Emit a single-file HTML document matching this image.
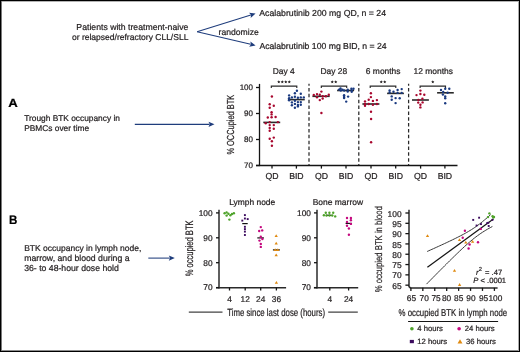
<!DOCTYPE html>
<html><head><meta charset="utf-8"><style>
html,body{margin:0;padding:0;background:#fff;}
.fig{position:relative;width:520px;height:352px;box-sizing:border-box;border:1px solid #000;overflow:hidden;background:#fff;box-shadow:inset 1px 0 0 #7a7a7a, inset 0 1px 0 #b4b4b4, inset -1px 0 0 #acacac, inset 0 -1px 0 #8c8c8c;}
svg{position:absolute;left:-1px;top:-1px;will-change:transform;}
text{font-family:"Liberation Sans", sans-serif;stroke-width:0.22px;text-rendering:geometricPrecision;}
</style></head><body><div class="fig">
<svg width="520" height="352" viewBox="0 0 520 352">
<text x="188.4" y="29.8" font-size="8.7" text-anchor="end" fill="#231f20" stroke="#231f20" font-weight="normal" font-style="normal" >Patients with treatment-naive</text>
<text x="188.4" y="39.7" font-size="8.52" text-anchor="end" fill="#231f20" stroke="#231f20" font-weight="normal" font-style="normal" >or relapsed/refractory CLL/SLL</text>
<line x1="197.1" y1="31.8" x2="250.82571611834607" y2="15.08533276318122" stroke="#1f3d7c" stroke-width="1.05" />
<path d="M255.60,13.60 L250.66,17.91 L251.02,15.03 L249.08,12.85 Z" fill="#1f3d7c"/>
<line x1="197.1" y1="31.8" x2="250.7317163031846" y2="44.35990621117315" stroke="#1f3d7c" stroke-width="1.05" />
<path d="M255.60,45.50 L249.15,46.71 L250.93,44.41 L250.36,41.55 Z" fill="#1f3d7c"/>
<text x="218.6" y="34.7" font-size="8.6" text-anchor="start" fill="#231f20" stroke="#231f20" font-weight="normal" font-style="normal" >randomize</text>
<text x="259.3" y="15.8" font-size="8.73" text-anchor="start" fill="#231f20" stroke="#231f20" font-weight="normal" font-style="normal" >Acalabrutinib 200 mg QD, n = 24</text>
<text x="259.4" y="48.5" font-size="8.66" text-anchor="start" fill="#231f20" stroke="#231f20" font-weight="normal" font-style="normal" >Acalabrutinib 100 mg BID, n = 24</text>
<text transform="translate(8.3,106.8) scale(1.1,1)" font-size="12.0" text-anchor="start" fill="#000" stroke="#000" font-weight="bold" font-style="normal" >A</text>
<text x="24.2" y="120.6" font-size="8.35" text-anchor="start" fill="#231f20" stroke="#231f20" font-weight="normal" font-style="normal" >Trough BTK occupancy in</text>
<text x="24.2" y="130.5" font-size="8.35" text-anchor="start" fill="#231f20" stroke="#231f20" font-weight="normal" font-style="normal" >PBMCs over time</text>
<line x1="134.8" y1="124.35" x2="209.5" y2="124.35" stroke="#1f3d7c" stroke-width="1.05" />
<path d="M214.50,124.35 L208.50,127.00 L209.70,124.35 L208.50,121.70 Z" fill="#1f3d7c"/>
<text transform="translate(233.5,124.7) rotate(-90) scale(0.728,1)" font-size="10.2" text-anchor="middle" fill="#231f20" stroke="#231f20">% OCCupied BTK</text>
<line x1="259.5" y1="83.9" x2="259.5" y2="166.1" stroke="#141414" stroke-width="1.3" />
<line x1="256" y1="165.5" x2="457.5" y2="165.5" stroke="#141414" stroke-width="1.3" />
<line x1="256" y1="87.5" x2="259.5" y2="87.5" stroke="#141414" stroke-width="1.3" />
<text x="253" y="90.35" font-size="8" text-anchor="end" fill="#231f20" stroke="#231f20" font-weight="normal" font-style="normal" >100</text>
<line x1="256" y1="113.5" x2="259.5" y2="113.5" stroke="#141414" stroke-width="1.3" />
<text x="253" y="116.35" font-size="8" text-anchor="end" fill="#231f20" stroke="#231f20" font-weight="normal" font-style="normal" >90</text>
<line x1="256" y1="139.5" x2="259.5" y2="139.5" stroke="#141414" stroke-width="1.3" />
<text x="253" y="142.35" font-size="8" text-anchor="end" fill="#231f20" stroke="#231f20" font-weight="normal" font-style="normal" >80</text>
<line x1="256" y1="165.5" x2="259.5" y2="165.5" stroke="#141414" stroke-width="1.3" />
<text x="253" y="168.35" font-size="8" text-anchor="end" fill="#231f20" stroke="#231f20" font-weight="normal" font-style="normal" >70</text>
<line x1="272" y1="165.5" x2="272" y2="168.6" stroke="#141414" stroke-width="1.3" />
<text x="272" y="178.8" font-size="8.7" text-anchor="middle" fill="#231f20" stroke="#231f20" font-weight="normal" font-style="normal" >QD</text>
<line x1="296.4" y1="165.5" x2="296.4" y2="168.6" stroke="#141414" stroke-width="1.3" />
<text x="296.4" y="178.8" font-size="8.7" text-anchor="middle" fill="#231f20" stroke="#231f20" font-weight="normal" font-style="normal" >BID</text>
<line x1="321.4" y1="165.5" x2="321.4" y2="168.6" stroke="#141414" stroke-width="1.3" />
<text x="321.4" y="178.8" font-size="8.7" text-anchor="middle" fill="#231f20" stroke="#231f20" font-weight="normal" font-style="normal" >QD</text>
<line x1="346" y1="165.5" x2="346" y2="168.6" stroke="#141414" stroke-width="1.3" />
<text x="346" y="178.8" font-size="8.7" text-anchor="middle" fill="#231f20" stroke="#231f20" font-weight="normal" font-style="normal" >BID</text>
<line x1="371" y1="165.5" x2="371" y2="168.6" stroke="#141414" stroke-width="1.3" />
<text x="371" y="178.8" font-size="8.7" text-anchor="middle" fill="#231f20" stroke="#231f20" font-weight="normal" font-style="normal" >QD</text>
<line x1="395.7" y1="165.5" x2="395.7" y2="168.6" stroke="#141414" stroke-width="1.3" />
<text x="395.7" y="178.8" font-size="8.7" text-anchor="middle" fill="#231f20" stroke="#231f20" font-weight="normal" font-style="normal" >BID</text>
<line x1="420.6" y1="165.5" x2="420.6" y2="168.6" stroke="#141414" stroke-width="1.3" />
<text x="420.6" y="178.8" font-size="8.7" text-anchor="middle" fill="#231f20" stroke="#231f20" font-weight="normal" font-style="normal" >QD</text>
<line x1="444.9" y1="165.5" x2="444.9" y2="168.6" stroke="#141414" stroke-width="1.3" />
<text x="444.9" y="178.8" font-size="8.7" text-anchor="middle" fill="#231f20" stroke="#231f20" font-weight="normal" font-style="normal" >BID</text>
<line x1="309" y1="83.8" x2="309" y2="165" stroke="#2a2a2a" stroke-width="1.25" stroke-dasharray="3.5 2.35" stroke-dashoffset="1.65"/>
<line x1="358.8" y1="83.8" x2="358.8" y2="165" stroke="#2a2a2a" stroke-width="1.25" stroke-dasharray="3.5 2.35" stroke-dashoffset="1.65"/>
<line x1="408.6" y1="83.8" x2="408.6" y2="165" stroke="#2a2a2a" stroke-width="1.25" stroke-dasharray="3.5 2.35" stroke-dashoffset="1.65"/>
<text x="283.8" y="74.0" font-size="8.45" text-anchor="middle" fill="#231f20" stroke="#231f20" font-weight="normal" font-style="normal" >Day 4</text>
<text x="333.85" y="74.0" font-size="8.45" text-anchor="middle" fill="#231f20" stroke="#231f20" font-weight="normal" font-style="normal" >Day 28</text>
<text x="383.2" y="74.0" font-size="8.45" text-anchor="middle" fill="#231f20" stroke="#231f20" font-weight="normal" font-style="normal" >6 months</text>
<text x="433.3" y="74.0" font-size="8.45" text-anchor="middle" fill="#231f20" stroke="#231f20" font-weight="normal" font-style="normal" >12 months</text>
<path d="M271.3,88.0 L271.3,86.1 L296.8,86.1 L296.8,88.0" fill="none" stroke="#2a2a2a" stroke-width="1.15"/>
<path d="M278.80,80.35 L279.27,81.35 L280.37,81.49 L279.56,82.25 L279.77,83.33 L278.80,82.80 L277.83,83.33 L278.04,82.25 L277.23,81.49 L278.33,81.35 Z" fill="#231f20"/>
<path d="M282.30,80.35 L282.77,81.35 L283.87,81.49 L283.06,82.25 L283.27,83.33 L282.30,82.80 L281.33,83.33 L281.54,82.25 L280.73,81.49 L281.83,81.35 Z" fill="#231f20"/>
<path d="M285.80,80.35 L286.27,81.35 L287.37,81.49 L286.56,82.25 L286.77,83.33 L285.80,82.80 L284.83,83.33 L285.04,82.25 L284.23,81.49 L285.33,81.35 Z" fill="#231f20"/>
<path d="M289.30,80.35 L289.77,81.35 L290.87,81.49 L290.06,82.25 L290.27,83.33 L289.30,82.80 L288.33,83.33 L288.54,82.25 L287.73,81.49 L288.83,81.35 Z" fill="#231f20"/>
<path d="M321.3,88.0 L321.3,86.1 L346.7,86.1 L346.7,88.0" fill="none" stroke="#2a2a2a" stroke-width="1.15"/>
<path d="M332.25,80.35 L332.72,81.35 L333.82,81.49 L333.01,82.25 L333.22,83.33 L332.25,82.80 L331.28,83.33 L331.49,82.25 L330.68,81.49 L331.78,81.35 Z" fill="#231f20"/>
<path d="M335.75,80.35 L336.22,81.35 L337.32,81.49 L336.51,82.25 L336.72,83.33 L335.75,82.80 L334.78,83.33 L334.99,82.25 L334.18,81.49 L335.28,81.35 Z" fill="#231f20"/>
<path d="M370.2,88.0 L370.2,86.1 L395.8,86.1 L395.8,88.0" fill="none" stroke="#2a2a2a" stroke-width="1.15"/>
<path d="M381.25,80.35 L381.72,81.35 L382.82,81.49 L382.01,82.25 L382.22,83.33 L381.25,82.80 L380.28,83.33 L380.49,82.25 L379.68,81.49 L380.78,81.35 Z" fill="#231f20"/>
<path d="M384.75,80.35 L385.22,81.35 L386.32,81.49 L385.51,82.25 L385.72,83.33 L384.75,82.80 L383.78,83.33 L383.99,82.25 L383.18,81.49 L384.28,81.35 Z" fill="#231f20"/>
<path d="M420.1,88.0 L420.1,86.1 L445.5,86.1 L445.5,88.0" fill="none" stroke="#2a2a2a" stroke-width="1.15"/>
<path d="M432.80,80.35 L433.27,81.35 L434.37,81.49 L433.56,82.25 L433.77,83.33 L432.80,82.80 L431.83,83.33 L432.04,82.25 L431.23,81.49 L432.33,81.35 Z" fill="#231f20"/>
<line x1="263.3" y1="122.4" x2="280.2" y2="122.4" stroke="#2a2a2a" stroke-width="1.6" />
<line x1="287.9" y1="99.6" x2="304.75" y2="99.6" stroke="#2a2a2a" stroke-width="1.6" />
<line x1="312.4" y1="96.3" x2="329.7" y2="96.3" stroke="#2a2a2a" stroke-width="1.6" />
<line x1="337.1" y1="90.5" x2="354.1" y2="90.5" stroke="#2a2a2a" stroke-width="1.6" />
<line x1="362.4" y1="104" x2="379.4" y2="104" stroke="#2a2a2a" stroke-width="1.6" />
<line x1="387.1" y1="93.4" x2="403.9" y2="93.4" stroke="#2a2a2a" stroke-width="1.6" />
<line x1="412" y1="100" x2="428.9" y2="100" stroke="#2a2a2a" stroke-width="1.6" />
<line x1="437.1" y1="92.8" x2="453.8" y2="92.8" stroke="#2a2a2a" stroke-width="1.6" />
<circle cx="271.9" cy="96.5" r="1.2" fill="#a8072e"/>
<circle cx="269.7" cy="104.3" r="1.2" fill="#a8072e"/>
<circle cx="273.8" cy="105.8" r="1.2" fill="#a8072e"/>
<circle cx="269.7" cy="107.8" r="1.2" fill="#a8072e"/>
<circle cx="271.6" cy="112.2" r="1.2" fill="#a8072e"/>
<circle cx="271.6" cy="114.4" r="1.2" fill="#a8072e"/>
<circle cx="271.6" cy="117.3" r="1.2" fill="#a8072e"/>
<circle cx="267.8" cy="117.5" r="1.2" fill="#a8072e"/>
<circle cx="275.6" cy="117" r="1.2" fill="#a8072e"/>
<circle cx="265.7" cy="123.3" r="1.2" fill="#a8072e"/>
<circle cx="269.7" cy="122.1" r="1.2" fill="#a8072e"/>
<circle cx="277.9" cy="122.1" r="1.2" fill="#a8072e"/>
<circle cx="269.7" cy="125.1" r="1.2" fill="#a8072e"/>
<circle cx="273.8" cy="125.1" r="1.2" fill="#a8072e"/>
<circle cx="269.7" cy="128" r="1.2" fill="#a8072e"/>
<circle cx="273.8" cy="128.8" r="1.2" fill="#a8072e"/>
<circle cx="269.7" cy="130.8" r="1.2" fill="#a8072e"/>
<circle cx="273.8" cy="137.6" r="1.2" fill="#a8072e"/>
<circle cx="269.7" cy="138.8" r="1.2" fill="#a8072e"/>
<circle cx="271.9" cy="141.3" r="1.2" fill="#a8072e"/>
<circle cx="271.9" cy="145.7" r="1.2" fill="#a8072e"/>
<circle cx="296.9" cy="90.8" r="1.2" fill="#1a3a80"/>
<circle cx="294.9" cy="93.3" r="1.2" fill="#1a3a80"/>
<circle cx="300.8" cy="93.75" r="1.2" fill="#1a3a80"/>
<circle cx="289.1" cy="95.4" r="1.2" fill="#1a3a80"/>
<circle cx="291.9" cy="97.4" r="1.2" fill="#1a3a80"/>
<circle cx="294.9" cy="96.75" r="1.2" fill="#1a3a80"/>
<circle cx="297.9" cy="97.7" r="1.2" fill="#1a3a80"/>
<circle cx="300.8" cy="97.4" r="1.2" fill="#1a3a80"/>
<circle cx="303.8" cy="97.4" r="1.2" fill="#1a3a80"/>
<circle cx="289.1" cy="98.3" r="1.2" fill="#1a3a80"/>
<circle cx="289.1" cy="100.2" r="1.2" fill="#1a3a80"/>
<circle cx="294.9" cy="100.8" r="1.2" fill="#1a3a80"/>
<circle cx="291.9" cy="102.4" r="1.2" fill="#1a3a80"/>
<circle cx="297.9" cy="102.1" r="1.2" fill="#1a3a80"/>
<circle cx="300.8" cy="102.1" r="1.2" fill="#1a3a80"/>
<circle cx="294.9" cy="103.9" r="1.2" fill="#1a3a80"/>
<circle cx="297.9" cy="104.9" r="1.2" fill="#1a3a80"/>
<circle cx="300.8" cy="104.75" r="1.2" fill="#1a3a80"/>
<circle cx="291.9" cy="105.2" r="1.2" fill="#1a3a80"/>
<circle cx="297.9" cy="106.4" r="1.2" fill="#1a3a80"/>
<circle cx="294.9" cy="107.7" r="1.2" fill="#1a3a80"/>
<circle cx="321.4" cy="91.6" r="1.2" fill="#a8072e"/>
<circle cx="313.8" cy="95" r="1.2" fill="#a8072e"/>
<circle cx="317" cy="94.1" r="1.2" fill="#a8072e"/>
<circle cx="319.8" cy="94.7" r="1.2" fill="#a8072e"/>
<circle cx="322.7" cy="96.2" r="1.2" fill="#a8072e"/>
<circle cx="325.9" cy="96.2" r="1.2" fill="#a8072e"/>
<circle cx="328.8" cy="94.7" r="1.2" fill="#a8072e"/>
<circle cx="317" cy="97.3" r="1.2" fill="#a8072e"/>
<circle cx="322.7" cy="98.6" r="1.2" fill="#a8072e"/>
<circle cx="319.8" cy="100.1" r="1.2" fill="#a8072e"/>
<circle cx="321.4" cy="113" r="1.2" fill="#a8072e"/>
<circle cx="339.1" cy="89.6" r="1.2" fill="#1a3a80"/>
<circle cx="340.5" cy="88.4" r="1.2" fill="#1a3a80"/>
<circle cx="340.8" cy="90.5" r="1.2" fill="#1a3a80"/>
<circle cx="342.5" cy="89.8" r="1.2" fill="#1a3a80"/>
<circle cx="344.2" cy="90.5" r="1.2" fill="#1a3a80"/>
<circle cx="347.7" cy="89.8" r="1.2" fill="#1a3a80"/>
<circle cx="347.7" cy="91.5" r="1.2" fill="#1a3a80"/>
<circle cx="351.4" cy="88.8" r="1.2" fill="#1a3a80"/>
<circle cx="353.5" cy="88.8" r="1.2" fill="#1a3a80"/>
<circle cx="351.7" cy="90.5" r="1.2" fill="#1a3a80"/>
<circle cx="351.7" cy="91.8" r="1.2" fill="#1a3a80"/>
<circle cx="344.1" cy="95.3" r="1.2" fill="#1a3a80"/>
<circle cx="344.1" cy="97" r="1.2" fill="#1a3a80"/>
<circle cx="344.1" cy="98" r="1.2" fill="#1a3a80"/>
<circle cx="348.1" cy="96.6" r="1.2" fill="#1a3a80"/>
<circle cx="346.2" cy="101.6" r="1.2" fill="#1a3a80"/>
<circle cx="370.9" cy="93.3" r="1.2" fill="#a8072e"/>
<circle cx="370.9" cy="97.1" r="1.2" fill="#a8072e"/>
<circle cx="368.7" cy="99.7" r="1.2" fill="#a8072e"/>
<circle cx="365" cy="101.4" r="1.2" fill="#a8072e"/>
<circle cx="372.9" cy="100.9" r="1.2" fill="#a8072e"/>
<circle cx="376.9" cy="100.1" r="1.2" fill="#a8072e"/>
<circle cx="365" cy="104" r="1.2" fill="#a8072e"/>
<circle cx="368.7" cy="104" r="1.2" fill="#a8072e"/>
<circle cx="372.9" cy="104.7" r="1.2" fill="#a8072e"/>
<circle cx="376.9" cy="104" r="1.2" fill="#a8072e"/>
<circle cx="365" cy="105.8" r="1.2" fill="#a8072e"/>
<circle cx="371" cy="111.7" r="1.2" fill="#a8072e"/>
<circle cx="371.1" cy="119" r="1.2" fill="#a8072e"/>
<circle cx="371.1" cy="142.2" r="1.2" fill="#a8072e"/>
<circle cx="389.6" cy="90.5" r="1.2" fill="#1a3a80"/>
<circle cx="389.6" cy="92.5" r="1.2" fill="#1a3a80"/>
<circle cx="393.5" cy="91.8" r="1.2" fill="#1a3a80"/>
<circle cx="397.6" cy="90" r="1.2" fill="#1a3a80"/>
<circle cx="397.6" cy="92.9" r="1.2" fill="#1a3a80"/>
<circle cx="401.7" cy="89.1" r="1.2" fill="#1a3a80"/>
<circle cx="401.7" cy="92.9" r="1.2" fill="#1a3a80"/>
<circle cx="391.7" cy="96.4" r="1.2" fill="#1a3a80"/>
<circle cx="391.7" cy="99.8" r="1.2" fill="#1a3a80"/>
<circle cx="395.6" cy="98.1" r="1.2" fill="#1a3a80"/>
<circle cx="399.7" cy="98.3" r="1.2" fill="#1a3a80"/>
<circle cx="395.6" cy="103.1" r="1.2" fill="#1a3a80"/>
<circle cx="420.4" cy="90.6" r="1.2" fill="#a8072e"/>
<circle cx="416.5" cy="95.1" r="1.2" fill="#a8072e"/>
<circle cx="420.4" cy="94" r="1.2" fill="#a8072e"/>
<circle cx="424.3" cy="94.7" r="1.2" fill="#a8072e"/>
<circle cx="422.4" cy="98.8" r="1.2" fill="#a8072e"/>
<circle cx="418.4" cy="100.0" r="1.2" fill="#a8072e"/>
<circle cx="418.2" cy="102.6" r="1.2" fill="#a8072e"/>
<circle cx="422.6" cy="102.4" r="1.2" fill="#a8072e"/>
<circle cx="420.4" cy="104.8" r="1.2" fill="#a8072e"/>
<circle cx="420.4" cy="107.4" r="1.2" fill="#a8072e"/>
<circle cx="445.2" cy="88.8" r="1.2" fill="#1a3a80"/>
<circle cx="449.3" cy="88.8" r="1.2" fill="#1a3a80"/>
<circle cx="441" cy="90" r="1.2" fill="#1a3a80"/>
<circle cx="443.2" cy="91.9" r="1.2" fill="#1a3a80"/>
<circle cx="447.6" cy="92.8" r="1.2" fill="#1a3a80"/>
<circle cx="442.9" cy="94.6" r="1.2" fill="#1a3a80"/>
<circle cx="445.2" cy="96.4" r="1.2" fill="#1a3a80"/>
<circle cx="445.2" cy="98.3" r="1.2" fill="#1a3a80"/>
<circle cx="445.2" cy="103.3" r="1.2" fill="#1a3a80"/>
<text transform="translate(8.9,224.1) scale(0.94,1)" font-size="12.3" text-anchor="start" fill="#000" stroke="#000" font-weight="bold" font-style="normal" >B</text>
<text x="24.2" y="251.0" font-size="8.5" text-anchor="start" fill="#231f20" stroke="#231f20" font-weight="normal" font-style="normal" >BTK occupancy in lymph node,</text>
<text x="24.2" y="261.0" font-size="8.7" text-anchor="start" fill="#231f20" stroke="#231f20" font-weight="normal" font-style="normal" >marrow, and blood during a</text>
<text x="24.2" y="271.2" font-size="8.7" text-anchor="start" fill="#231f20" stroke="#231f20" font-weight="normal" font-style="normal" >36- to 48-hour dose hold</text>
<line x1="148.3" y1="258.1" x2="169.8" y2="258.1" stroke="#1f3d7c" stroke-width="1.05" />
<path d="M174.80,258.10 L168.80,260.75 L170.00,258.10 L168.80,255.45 Z" fill="#1f3d7c"/>
<text transform="translate(192.6,248.4) rotate(-90) scale(0.7,1)" font-size="10.8" text-anchor="middle" fill="#231f20" stroke="#231f20">% occupied BTK</text>
<line x1="219" y1="209.8" x2="219" y2="288.5" stroke="#2a2a2a" stroke-width="1.5" />
<line x1="216" y1="287.8" x2="286.1" y2="287.8" stroke="#2a2a2a" stroke-width="1.5" />
<line x1="216" y1="212.9" x2="219" y2="212.9" stroke="#141414" stroke-width="1.3" />
<text x="212.6" y="215.70000000000002" font-size="8.3" text-anchor="end" fill="#231f20" stroke="#231f20" font-weight="normal" font-style="normal" >100</text>
<line x1="216" y1="237.8" x2="219" y2="237.8" stroke="#141414" stroke-width="1.3" />
<text x="212.6" y="240.60000000000002" font-size="8.3" text-anchor="end" fill="#231f20" stroke="#231f20" font-weight="normal" font-style="normal" >90</text>
<line x1="216" y1="262.7" x2="219" y2="262.7" stroke="#141414" stroke-width="1.3" />
<text x="212.6" y="265.5" font-size="8.3" text-anchor="end" fill="#231f20" stroke="#231f20" font-weight="normal" font-style="normal" >80</text>
<line x1="216" y1="287.6" x2="219" y2="287.6" stroke="#141414" stroke-width="1.3" />
<text x="212.6" y="290.40000000000003" font-size="8.3" text-anchor="end" fill="#231f20" stroke="#231f20" font-weight="normal" font-style="normal" >70</text>
<line x1="229.5" y1="287.6" x2="229.5" y2="290.5" stroke="#141414" stroke-width="1.3" />
<text x="229.5" y="301.7" font-size="8.3" text-anchor="middle" fill="#231f20" stroke="#231f20" font-weight="normal" font-style="normal" >4</text>
<line x1="245.2" y1="287.6" x2="245.2" y2="290.5" stroke="#141414" stroke-width="1.3" />
<text x="245.2" y="301.7" font-size="8.3" text-anchor="middle" fill="#231f20" stroke="#231f20" font-weight="normal" font-style="normal" >12</text>
<line x1="260.7" y1="287.6" x2="260.7" y2="290.5" stroke="#141414" stroke-width="1.3" />
<text x="260.7" y="301.7" font-size="8.3" text-anchor="middle" fill="#231f20" stroke="#231f20" font-weight="normal" font-style="normal" >24</text>
<line x1="276.4" y1="287.6" x2="276.4" y2="290.5" stroke="#141414" stroke-width="1.3" />
<text x="276.4" y="301.7" font-size="8.3" text-anchor="middle" fill="#231f20" stroke="#231f20" font-weight="normal" font-style="normal" >36</text>
<text x="229.2" y="204.5" font-size="8.43" text-anchor="start" fill="#231f20" stroke="#231f20" font-weight="normal" font-style="normal" >Lymph node</text>
<line x1="317" y1="209.8" x2="317" y2="288.5" stroke="#2a2a2a" stroke-width="1.5" />
<line x1="313.9" y1="287.8" x2="358.2" y2="287.8" stroke="#2a2a2a" stroke-width="1.5" />
<line x1="314" y1="212.9" x2="317" y2="212.9" stroke="#141414" stroke-width="1.3" />
<text x="310.9" y="215.70000000000002" font-size="8.3" text-anchor="end" fill="#231f20" stroke="#231f20" font-weight="normal" font-style="normal" >100</text>
<line x1="314" y1="237.8" x2="317" y2="237.8" stroke="#141414" stroke-width="1.3" />
<text x="310.9" y="240.60000000000002" font-size="8.3" text-anchor="end" fill="#231f20" stroke="#231f20" font-weight="normal" font-style="normal" >90</text>
<line x1="314" y1="262.7" x2="317" y2="262.7" stroke="#141414" stroke-width="1.3" />
<text x="310.9" y="265.5" font-size="8.3" text-anchor="end" fill="#231f20" stroke="#231f20" font-weight="normal" font-style="normal" >80</text>
<line x1="314" y1="287.6" x2="317" y2="287.6" stroke="#141414" stroke-width="1.3" />
<text x="310.9" y="290.40000000000003" font-size="8.3" text-anchor="end" fill="#231f20" stroke="#231f20" font-weight="normal" font-style="normal" >70</text>
<line x1="329.8" y1="287.6" x2="329.8" y2="290.5" stroke="#141414" stroke-width="1.3" />
<text x="329.8" y="301.7" font-size="8.3" text-anchor="middle" fill="#231f20" stroke="#231f20" font-weight="normal" font-style="normal" >4</text>
<line x1="348.6" y1="287.6" x2="348.6" y2="290.5" stroke="#141414" stroke-width="1.3" />
<text x="348.6" y="301.7" font-size="8.3" text-anchor="middle" fill="#231f20" stroke="#231f20" font-weight="normal" font-style="normal" >24</text>
<text x="312.7" y="204.6" font-size="8.47" text-anchor="start" fill="#231f20" stroke="#231f20" font-weight="normal" font-style="normal" >Bone marrow</text>
<text transform="translate(227.2,315.5) scale(0.752,1)" font-size="10.4" text-anchor="start" fill="#231f20" stroke="#231f20" font-weight="normal" font-style="normal" >Time since last dose (hours)</text>
<line x1="188.8" y1="312.1" x2="222.5" y2="312.1" stroke="#141414" stroke-width="1.0" />
<line x1="328.2" y1="312.1" x2="357.8" y2="312.1" stroke="#141414" stroke-width="1.0" />
<line x1="242.25" y1="223.6" x2="247.7" y2="223.6" stroke="#111" stroke-width="1.2" />
<line x1="257.3" y1="237.9" x2="263.9" y2="237.9" stroke="#111" stroke-width="1.2" />
<line x1="272.9" y1="249.9" x2="279.9" y2="249.9" stroke="#111" stroke-width="1.2" />
<line x1="326" y1="215.3" x2="331.6" y2="215.3" stroke="#111" stroke-width="1.2" />
<line x1="345.6" y1="223.4" x2="351.9" y2="223.4" stroke="#111" stroke-width="1.2" />
<circle cx="224.6" cy="213.2" r="1.2" fill="#4ea32a"/>
<circle cx="226.6" cy="212.4" r="1.2" fill="#4ea32a"/>
<circle cx="228.4" cy="213.8" r="1.2" fill="#4ea32a"/>
<circle cx="226.6" cy="215.6" r="1.2" fill="#4ea32a"/>
<circle cx="230.4" cy="215.2" r="1.2" fill="#4ea32a"/>
<circle cx="232" cy="214" r="1.2" fill="#4ea32a"/>
<circle cx="233.9" cy="213.2" r="1.2" fill="#4ea32a"/>
<circle cx="229.4" cy="219.6" r="1.2" fill="#4ea32a"/>
<rect x="243.95000000000002" y="214.15" width="1.9" height="1.9" fill="#3c0b5e"/>
<rect x="243.95000000000002" y="217.55" width="1.9" height="1.9" fill="#3c0b5e"/>
<rect x="246.75" y="218.15" width="1.9" height="1.9" fill="#3c0b5e"/>
<rect x="241.35000000000002" y="219.65" width="1.9" height="1.9" fill="#3c0b5e"/>
<rect x="243.95000000000002" y="225.85000000000002" width="1.9" height="1.9" fill="#3c0b5e"/>
<rect x="243.95000000000002" y="228.15" width="1.9" height="1.9" fill="#3c0b5e"/>
<rect x="243.95000000000002" y="230.65" width="1.9" height="1.9" fill="#3c0b5e"/>
<rect x="243.95000000000002" y="234.05" width="1.9" height="1.9" fill="#3c0b5e"/>
<circle cx="260.8" cy="227.1" r="1.2" fill="#c4087e"/>
<circle cx="259.2" cy="231" r="1.2" fill="#c4087e"/>
<circle cx="262.2" cy="230.4" r="1.2" fill="#c4087e"/>
<circle cx="260.8" cy="236.7" r="1.2" fill="#c4087e"/>
<circle cx="262.4" cy="239" r="1.2" fill="#c4087e"/>
<circle cx="259.5" cy="240.6" r="1.2" fill="#c4087e"/>
<circle cx="260.8" cy="243.9" r="1.2" fill="#c4087e"/>
<circle cx="260.8" cy="246.9" r="1.2" fill="#c4087e"/>
<path d="M276.2,234.32 L277.85,237.12 L274.55,237.12 Z" fill="#e08a10"/>
<path d="M276.2,241.72 L277.85,244.52 L274.55,244.52 Z" fill="#e08a10"/>
<path d="M275.2,248.22 L276.85,251.02 L273.55,251.02 Z" fill="#e08a10"/>
<path d="M277.8,248.22 L279.45,251.02 L276.15,251.02 Z" fill="#e08a10"/>
<path d="M276.2,253.42 L277.85,256.22 L274.55,256.22 Z" fill="#e08a10"/>
<path d="M276.4,281.02 L278.05,283.82 L274.75,283.82 Z" fill="#e08a10"/>
<circle cx="325.8" cy="212.7" r="1.2" fill="#4ea32a"/>
<circle cx="329.4" cy="212.7" r="1.2" fill="#4ea32a"/>
<circle cx="333.2" cy="212.7" r="1.2" fill="#4ea32a"/>
<circle cx="323.9" cy="215.3" r="1.2" fill="#4ea32a"/>
<circle cx="326.5" cy="215.5" r="1.2" fill="#4ea32a"/>
<circle cx="329.5" cy="215.5" r="1.2" fill="#4ea32a"/>
<circle cx="332.3" cy="215.5" r="1.2" fill="#4ea32a"/>
<circle cx="335.2" cy="216.4" r="1.2" fill="#4ea32a"/>
<circle cx="347" cy="218" r="1.2" fill="#c4087e"/>
<circle cx="350.9" cy="218" r="1.2" fill="#c4087e"/>
<circle cx="350.9" cy="220.2" r="1.2" fill="#c4087e"/>
<circle cx="347" cy="222" r="1.2" fill="#c4087e"/>
<circle cx="350.9" cy="223.9" r="1.2" fill="#c4087e"/>
<circle cx="347" cy="225.7" r="1.2" fill="#c4087e"/>
<circle cx="348.9" cy="228.5" r="1.2" fill="#c4087e"/>
<circle cx="348.9" cy="234.7" r="1.2" fill="#c4087e"/>
<path d="M409,209.8 L409,286.6 L410.4,287.9 L497.6,287.9" fill="none" stroke="#2a2a2a" stroke-width="1.5"/>
<line x1="405.4" y1="213.0" x2="409" y2="213.0" stroke="#141414" stroke-width="1.3" />
<text x="401.6" y="216.6" font-size="8.4" text-anchor="end" fill="#231f20" stroke="#231f20" font-weight="normal" font-style="normal" >100</text>
<line x1="405.4" y1="223.31" x2="409" y2="223.31" stroke="#141414" stroke-width="1.3" />
<text x="401.6" y="226.91" font-size="8.4" text-anchor="end" fill="#231f20" stroke="#231f20" font-weight="normal" font-style="normal" >95</text>
<line x1="405.4" y1="233.62" x2="409" y2="233.62" stroke="#141414" stroke-width="1.3" />
<text x="401.6" y="237.22" font-size="8.4" text-anchor="end" fill="#231f20" stroke="#231f20" font-weight="normal" font-style="normal" >90</text>
<line x1="405.4" y1="243.93" x2="409" y2="243.93" stroke="#141414" stroke-width="1.3" />
<text x="401.6" y="247.53" font-size="8.4" text-anchor="end" fill="#231f20" stroke="#231f20" font-weight="normal" font-style="normal" >85</text>
<line x1="405.4" y1="254.24" x2="409" y2="254.24" stroke="#141414" stroke-width="1.3" />
<text x="401.6" y="257.84000000000003" font-size="8.4" text-anchor="end" fill="#231f20" stroke="#231f20" font-weight="normal" font-style="normal" >80</text>
<line x1="405.4" y1="264.55" x2="409" y2="264.55" stroke="#141414" stroke-width="1.3" />
<text x="401.6" y="268.15000000000003" font-size="8.4" text-anchor="end" fill="#231f20" stroke="#231f20" font-weight="normal" font-style="normal" >75</text>
<line x1="405.4" y1="274.86" x2="409" y2="274.86" stroke="#141414" stroke-width="1.3" />
<text x="401.6" y="278.46000000000004" font-size="8.4" text-anchor="end" fill="#231f20" stroke="#231f20" font-weight="normal" font-style="normal" >70</text>
<line x1="405.4" y1="285.17" x2="409" y2="285.17" stroke="#141414" stroke-width="1.3" />
<text x="401.6" y="288.77000000000004" font-size="8.4" text-anchor="end" fill="#231f20" stroke="#231f20" font-weight="normal" font-style="normal" >65</text>
<line x1="410.9" y1="287.8" x2="410.9" y2="290.9" stroke="#141414" stroke-width="1.3" />
<text x="411.45" y="301.4" font-size="8.3" text-anchor="middle" fill="#231f20" stroke="#231f20" font-weight="normal" font-style="normal" >65</text>
<line x1="422.83" y1="287.8" x2="422.83" y2="290.9" stroke="#141414" stroke-width="1.3" />
<text x="424.2" y="301.4" font-size="8.3" text-anchor="middle" fill="#231f20" stroke="#231f20" font-weight="normal" font-style="normal" >70</text>
<line x1="434.76" y1="287.8" x2="434.76" y2="290.9" stroke="#141414" stroke-width="1.3" />
<text x="436.0" y="301.4" font-size="8.3" text-anchor="middle" fill="#231f20" stroke="#231f20" font-weight="normal" font-style="normal" >75</text>
<line x1="446.69" y1="287.8" x2="446.69" y2="290.9" stroke="#141414" stroke-width="1.3" />
<text x="446.6" y="301.4" font-size="8.3" text-anchor="middle" fill="#231f20" stroke="#231f20" font-weight="normal" font-style="normal" >80</text>
<line x1="458.62" y1="287.8" x2="458.62" y2="290.9" stroke="#141414" stroke-width="1.3" />
<text x="458.7" y="301.4" font-size="8.3" text-anchor="middle" fill="#231f20" stroke="#231f20" font-weight="normal" font-style="normal" >85</text>
<line x1="470.54999999999995" y1="287.8" x2="470.54999999999995" y2="290.9" stroke="#141414" stroke-width="1.3" />
<text x="470.9" y="301.4" font-size="8.3" text-anchor="middle" fill="#231f20" stroke="#231f20" font-weight="normal" font-style="normal" >90</text>
<line x1="482.47999999999996" y1="287.8" x2="482.47999999999996" y2="290.9" stroke="#141414" stroke-width="1.3" />
<text x="483.5" y="301.4" font-size="8.3" text-anchor="middle" fill="#231f20" stroke="#231f20" font-weight="normal" font-style="normal" >95</text>
<line x1="494.40999999999997" y1="287.8" x2="494.40999999999997" y2="290.9" stroke="#141414" stroke-width="1.3" />
<text x="495.4" y="301.4" font-size="8.3" text-anchor="middle" fill="#231f20" stroke="#231f20" font-weight="normal" font-style="normal" >100</text>
<text transform="translate(381.5,249.2) rotate(-90) scale(0.782,1)" font-size="9.9" text-anchor="middle" fill="#231f20" stroke="#231f20">% occupied BTK in blood</text>
<text transform="translate(398.5,315.6) scale(0.792,1)" font-size="9.9" text-anchor="start" fill="#231f20" stroke="#231f20" font-weight="normal" font-style="normal" >% occupied BTK in lymph node</text>
<line x1="408.1" y1="321.5" x2="498.1" y2="321.5" stroke="#141414" stroke-width="1.1" />
<circle cx="411.9" cy="328.7" r="1.8" fill="#4ea32a"/>
<text x="417.25" y="330.9" font-size="7.7" text-anchor="start" fill="#231f20" stroke="#231f20" font-weight="normal" font-style="normal" >4 hours</text>
<circle cx="459.1" cy="328.7" r="1.8" fill="#c4087e"/>
<text x="464.75" y="330.9" font-size="7.7" text-anchor="start" fill="#231f20" stroke="#231f20" font-weight="normal" font-style="normal" >24 hours</text>
<rect x="409.8" y="339.9" width="4.1" height="3.3" fill="#3c0b5e"/>
<text x="417.25" y="343.75" font-size="7.7" text-anchor="start" fill="#231f20" stroke="#231f20" font-weight="normal" font-style="normal" >12 hours</text>
<path d="M460.0,339.35 L462.50,343.60 L457.50,343.60 Z" fill="#e08a10"/>
<text x="466" y="343.75" font-size="7.7" text-anchor="start" fill="#231f20" stroke="#231f20" font-weight="normal" font-style="normal" >36 hours</text>
<path d="M427.20,251.47 L428.78,250.76 L430.37,250.04 L431.95,249.33 L433.54,248.62 L435.12,247.90 L436.71,247.18 L438.30,246.46 L439.88,245.73 L441.46,245.01 L443.05,244.28 L444.63,243.54 L446.22,242.80 L447.81,242.06 L449.39,241.31 L450.98,240.55 L452.56,239.79 L454.14,239.02 L455.73,238.24 L457.31,237.45 L458.90,236.65 L460.49,235.84 L462.07,235.01 L463.66,234.16 L465.24,233.29 L466.82,232.40 L468.41,231.48 L470.00,230.53 L471.58,229.54 L473.17,228.52 L474.75,227.46 L476.34,226.36 L477.92,225.21 L479.50,224.02 L481.09,222.79 L482.68,221.51 L484.26,220.19 L485.85,218.84 L487.43,217.46 L489.02,216.05 L490.60,214.61" fill="none" stroke="#383838" stroke-width="1.0"/>
<line x1="427.4" y1="267.3" x2="493.4" y2="218.9814" stroke="#151515" stroke-width="1.25" />
<path d="M426.50,284.14 L428.15,282.46 L429.80,280.79 L431.44,279.12 L433.09,277.45 L434.74,275.78 L436.38,274.12 L438.03,272.45 L439.68,270.79 L441.33,269.14 L442.98,267.49 L444.62,265.84 L446.27,264.19 L447.92,262.55 L449.56,260.92 L451.21,259.29 L452.86,257.68 L454.51,256.07 L456.15,254.47 L457.80,252.88 L459.45,251.30 L461.10,249.74 L462.75,248.20 L464.39,246.68 L466.04,245.18 L467.69,243.71 L469.33,242.27 L470.98,240.87 L472.63,239.50 L474.28,238.18 L475.92,236.90 L477.57,235.67 L479.22,234.49 L480.87,233.35 L482.51,232.26 L484.16,231.21 L485.81,230.20 L487.46,229.23 L489.10,228.29 L490.75,227.37 L492.40,226.48" fill="none" stroke="#383838" stroke-width="1.0"/>
<circle cx="489.4" cy="213.4" r="1.2" fill="#4ea32a"/>
<circle cx="488" cy="217.1" r="1.2" fill="#4ea32a"/>
<circle cx="492.6" cy="216.2" r="1.2" fill="#4ea32a"/>
<circle cx="494" cy="217.0" r="1.2" fill="#4ea32a"/>
<circle cx="493.2" cy="217.6" r="1.2" fill="#4ea32a"/>
<rect x="472.25" y="218.95000000000002" width="1.9" height="1.9" fill="#3c0b5e"/>
<rect x="478.15000000000003" y="216.75" width="1.9" height="1.9" fill="#3c0b5e"/>
<rect x="475.65000000000003" y="224.55" width="1.9" height="1.9" fill="#3c0b5e"/>
<rect x="480.05" y="223.15" width="1.9" height="1.9" fill="#3c0b5e"/>
<rect x="487.35" y="221.85000000000002" width="1.9" height="1.9" fill="#3c0b5e"/>
<rect x="486.25" y="222.15" width="1.9" height="1.9" fill="#3c0b5e"/>
<rect x="491.45" y="218.95000000000002" width="1.9" height="1.9" fill="#3c0b5e"/>
<rect x="487.75" y="225.05" width="1.9" height="1.9" fill="#3c0b5e"/>
<circle cx="464.9" cy="230.8" r="1.2" fill="#c4087e"/>
<circle cx="480.8" cy="228.9" r="1.2" fill="#c4087e"/>
<circle cx="462.7" cy="237.8" r="1.2" fill="#c4087e"/>
<circle cx="478.0" cy="242.3" r="1.2" fill="#c4087e"/>
<circle cx="469.6" cy="244.5" r="1.2" fill="#c4087e"/>
<circle cx="468.6" cy="248.5" r="1.2" fill="#c4087e"/>
<path d="M459.5,238.22 L461.15,241.02 L457.85,241.02 Z" fill="#e08a10"/>
<path d="M465.8,240.72 L467.45,243.52 L464.15,243.52 Z" fill="#e08a10"/>
<path d="M472.6,239.92 L474.25,242.72 L470.95,242.72 Z" fill="#e08a10"/>
<path d="M427.5,234.32 L429.15,237.12 L425.85,237.12 Z" fill="#e08a10"/>
<path d="M454.5,269.02 L456.15,271.82 L452.85,271.82 Z" fill="#e08a10"/>
<path d="M459.6,283.12 L461.25,285.92 L457.95,285.92 Z" fill="#e08a10"/>
<text x="476.0" y="274.6" font-size="7.6" text-anchor="start" fill="#231f20" stroke="#231f20" font-weight="normal" font-style="italic" >r</text>
<text x="478.7" y="271.4" font-size="5.8" text-anchor="start" fill="#231f20" stroke="#231f20" font-weight="normal" font-style="normal" >2</text>
<text x="502.2" y="274.6" font-size="7.6" text-anchor="end" fill="#231f20" stroke="#231f20" font-weight="normal" font-style="normal" >= .47</text>
<text x="506.1" y="283.4" font-size="7.6" text-anchor="end" fill="#231f20" stroke="#231f20"><tspan font-style="italic">P</tspan> &lt; .0001</text>
</svg></div></body></html>
